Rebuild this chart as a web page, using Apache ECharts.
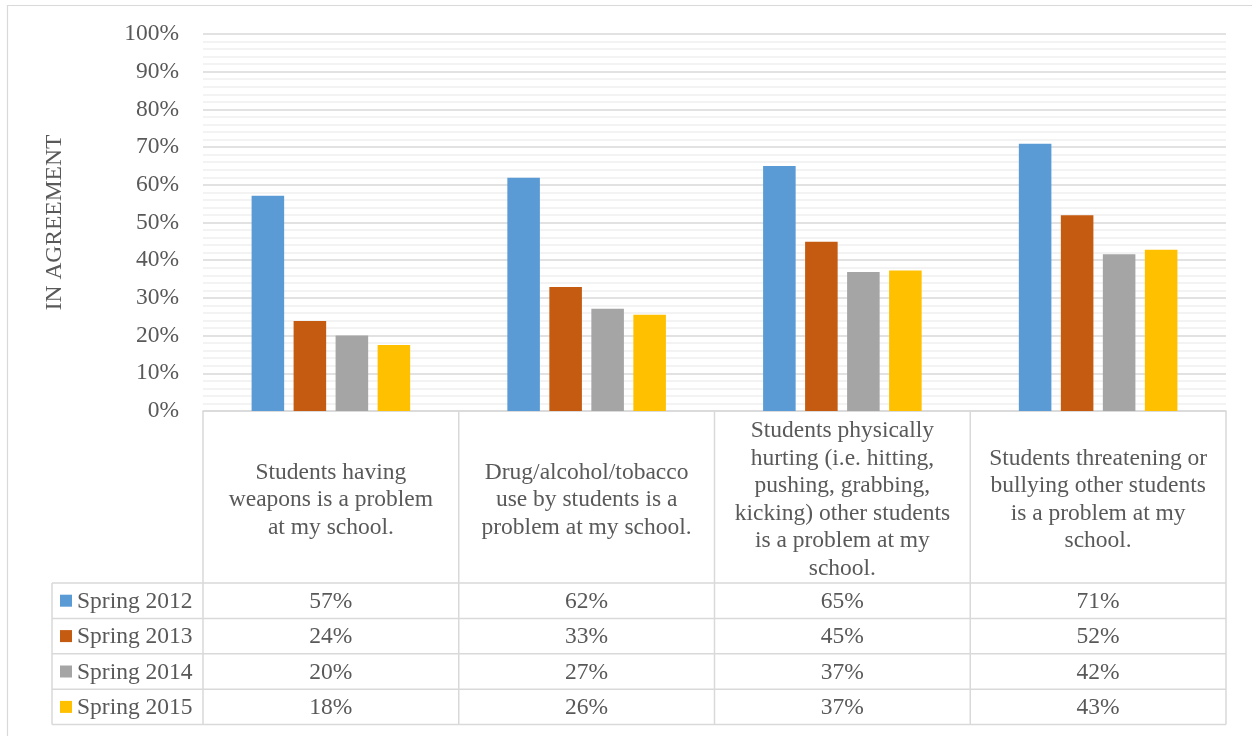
<!DOCTYPE html>
<html><head><meta charset="utf-8">
<script src="https://cdn.jsdelivr.net/npm/echarts@6/dist/echarts.min.js"></script>
<style>html,body{margin:0;padding:0;background:#fff}#c{width:1252px;height:736px}</style>
</head><body><div id="c"></div>
<script>
// ---- data ----
const categories = [
  'Students having\nweapons is a problem\nat my school.',
  'Drug/alcohol/tobacco\nuse by students is a\nproblem at my school.',
  'Students physically\nhurting (i.e. hitting,\npushing, grabbing,\nkicking) other students\nis a problem at my\nschool.',
  'Students threatening or\nbullying other students\nis a problem at my\nschool.'
];
const seriesNames = ['Spring 2012', 'Spring 2013', 'Spring 2014', 'Spring 2015'];
const spring2012 = [57.1, 61.9, 65.0, 70.9];
const spring2013 = [23.9, 32.9, 44.9, 51.9];
const spring2014 = [20.0, 27.1, 36.9, 41.6];
const spring2015 = [17.5, 25.5, 37.3, 42.8];
const yTickLabels = ['0%','10%','20%','30%','40%','50%','60%','70%','80%','90%','100%'];
const yAxisTitle = 'IN AGREEMENT';

// ---- styles ----
const seriesValues = [spring2012, spring2013, spring2014, spring2015];
const colors = ['#5B9BD5', '#C55A11', '#A5A5A5', '#FFC000'];
const FONT_FAMILY = '"Liberation Serif", "Times New Roman", serif';
const FONT_SIZE = 23.5;
const TEXT_COLOR = '#595959';
const LINE_COLOR = '#d9d9d9';

const chart = echarts.init(document.getElementById('c'), null, {renderer: 'canvas'});

const option = {
  animation: false,
  backgroundColor: '#fff',
  grid: {left: 203, right: 26, top: 34, bottom: 325, containLabel: false},
  xAxis: {
    type: 'category',
    data: categories,
    axisLine: {show: true, lineStyle: {color: LINE_COLOR, width: 1.5}},
    axisTick: {show: false},
    axisLabel: {show: false},
    splitLine: {show: false}
  },
  yAxis: {
    type: 'value',
    min: 0, max: 100, interval: 10,
    name: yAxisTitle,
    nameLocation: 'middle',
    nameRotate: 90,
    nameGap: 136,
    nameTextStyle: {fontFamily: FONT_FAMILY, fontSize: FONT_SIZE, color: TEXT_COLOR},
    axisLine: {show: false},
    axisTick: {show: false},
    axisLabel: {
      margin: 24,
      fontFamily: FONT_FAMILY, fontSize: FONT_SIZE, color: TEXT_COLOR,
      formatter: v => yTickLabels[Math.round(v / 10)]
    },
    splitLine: {show: true, lineStyle: {color: LINE_COLOR, width: 1.5}},
    minorTick: {show: false, splitNumber: 5},
    minorSplitLine: {show: true, lineStyle: {color: '#f0f0f0', width: 1.5}}
  },
  series: seriesNames.map((name, i) => ({
    name: name,
    type: 'bar',
    data: seriesValues[i],
    barCategoryGap: '38%',
    barGap: '29%',
    itemStyle: {color: colors[i]}
  }))
};
chart.setOption(option);

// ---- data table drawn under the plot, positioned from the axis scales ----
function buildTable() {
  const c0 = chart.convertToPixel({xAxisIndex: 0}, 0);
  const c1 = chart.convertToPixel({xAxisIndex: 0}, 1);
  const band = c1 - c0;
  const yBase = chart.convertToPixel({yAxisIndex: 0}, 0);
  const left = c0 - band / 2;
  const right = left + band * categories.length;
  const headerH = 172;
  const rowH = 35.4;
  const legendLeft = 52;
  const tableBottom = yBase + headerH + rowH * seriesNames.length;
  const els = [];
  const ls = {stroke: LINE_COLOR, lineWidth: 1.5};
  const line = (x1, y1, x2, y2) => els.push({type: 'line', silent: true, z: 10,
    shape: {x1, y1, x2, y2}, style: ls});
  const font = FONT_SIZE + 'px ' + FONT_FAMILY;

  // chart outer border
  els.push({type: 'rect', silent: true, z: 0,
    shape: {x: 7.5, y: 5.5, width: 1400, height: 900},
    style: {fill: 'none', stroke: LINE_COLOR, lineWidth: 1.2}});

  // horizontal rules of data rows
  for (let r = 0; r <= seriesNames.length; r++) {
    const y = yBase + headerH + r * rowH;
    line(legendLeft, y, right, y);
  }
  // vertical rules
  for (let c = 0; c <= categories.length; c++) {
    const x = left + c * band;
    line(x, yBase, x, tableBottom);
  }
  line(legendLeft, yBase + headerH, legendLeft, tableBottom);

  // header cells (category names)
  categories.forEach((cat, i) => {
    els.push({type: 'text', silent: true, z: 11,
      x: chart.convertToPixel({xAxisIndex: 0}, i), y: yBase + headerH / 2 + 3,
      style: {text: cat, font: font, fill: TEXT_COLOR, align: 'center',
        verticalAlign: 'middle', lineHeight: 27.5}});
  });

  // data rows
  seriesNames.forEach((name, r) => {
    const yc = yBase + headerH + r * rowH + rowH / 2;
    els.push({type: 'rect', silent: true, z: 11,
      shape: {x: 60, y: yc - 6, width: 12, height: 12},
      style: {fill: colors[r]}});
    els.push({type: 'text', silent: true, z: 11, x: 77, y: yc + 1,
      style: {text: name, font: font, fill: TEXT_COLOR, align: 'left', verticalAlign: 'middle'}});
    seriesValues[r].forEach((v, i) => {
      els.push({type: 'text', silent: true, z: 11,
        x: chart.convertToPixel({xAxisIndex: 0}, i), y: yc + 1,
        style: {text: Math.round(v) + '%', font: font, fill: TEXT_COLOR,
          align: 'center', verticalAlign: 'middle'}});
    });
  });
  chart.setOption({graphic: {elements: els}});
}
buildTable();
</script>
</body></html>
